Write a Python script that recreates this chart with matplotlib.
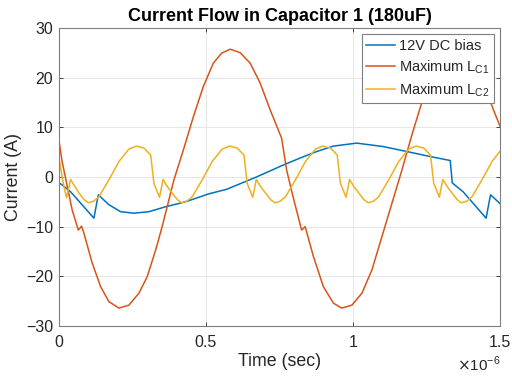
import matplotlib
matplotlib.use("Agg")
import matplotlib.pyplot as plt
from matplotlib import ticker

plt.rcParams["font.family"] = ["Liberation Sans", "DejaVu Sans"]
plt.rcParams["xtick.direction"] = "in"
plt.rcParams["ytick.direction"] = "in"

# MATLAB default line colours
c_blue = "#0072BD"
c_red = "#D95319"
c_yel = "#EDB120"
axis_col = "#262626"

# time in microseconds, current in amps
t_bias = [0, 0.011, 0.04, 0.119, 0.134, 0.17, 0.21, 0.255, 0.306, 0.363, 0.431,
          0.51, 0.57, 0.672, 0.763, 0.82, 0.876, 0.933, 1.012, 1.103, 1.183,
          1.262, 1.33, 1.337, 1.345, 1.374, 1.452, 1.467, 1.5]
i_bias = [-1.2, -1.6, -3.0, -8.3, -3.6, -5.6, -7.0, -7.3, -7.0, -6.0, -5.0,
          -3.4, -2.5, 0.0, 2.4, 3.8, 5.1, 6.2, 6.8, 6.1, 5.1,
          4.1, 3.3, -1.2, -1.6, -3.0, -8.3, -3.6, -5.4]

t_lc1 = [0, 0.011, 0.045, 0.066, 0.077, 0.085, 0.113, 0.142, 0.170, 0.204,
         0.238, 0.272, 0.300, 0.329, 0.351, 0.374, 0.391, 0.423, 0.457, 0.491,
         0.525, 0.553, 0.582, 0.616, 0.650, 0.684, 0.718, 0.757, 0.774, 0.795,
         0.825, 0.837, 0.865, 0.899, 0.933, 0.961, 0.996, 1.03, 1.064, 1.098,
         1.132, 1.166, 1.2, 1.25, 1.284, 1.312, 1.341, 1.375, 1.409, 1.443,
         1.477, 1.5]
i_lc1 = [7.4, 3.1, -6.6, -10.7, -9.9, -11.3, -17.3, -22.1, -25.1, -26.4,
         -25.8, -23.4, -20.1, -14.7, -10.0, -4.6, -0.6, 5.4, 12.1, 18.2,
         22.9, 24.9, 25.7, 25.0, 22.9, 18.9, 13.5, 7.8, 1.4, -3.8,
         -10.7, -10.0, -16.0, -22.1, -25.4, -26.4, -25.8, -23.4, -18.7, -12.0,
         -5.3, 1.4, 8.5, 18.2, 22.9, 24.9, 25.7, 25.0, 22.9, 18.9,
         13.5, 10.1]

t_lc2 = [0, 0.015, 0.026, 0.04, 0.054, 0.069, 0.086, 0.1,
         0.118, 0.136, 0.17, 0.204, 0.238, 0.263, 0.289, 0.312, 0.323, 0.342,
         0.354, 0.368, 0.386, 0.403, 0.417,
         0.435, 0.453, 0.487, 0.521, 0.555, 0.58, 0.606, 0.629, 0.64, 0.659,
         0.671, 0.685, 0.703, 0.72, 0.734,
         0.752, 0.77, 0.804, 0.838, 0.872, 0.897, 0.923, 0.946, 0.957, 0.976,
         0.988, 1.002, 1.02, 1.037, 1.051,
         1.069, 1.087, 1.121, 1.155, 1.189, 1.214, 1.24, 1.263, 1.274, 1.293,
         1.305, 1.319, 1.337, 1.354, 1.368,
         1.386, 1.404, 1.438, 1.472, 1.5]
i_lc2 = [4.0, -1.3, -4.2, -0.5, -1.9, -3.3, -4.6, -5.2,
         -4.9, -4.0, -0.6, 3.1, 5.6, 6.2, 5.8, 4.4, -1.3, -4.1,
         -0.5, -1.9, -3.3, -4.6, -5.2,
         -4.9, -4.0, -0.6, 3.1, 5.6, 6.2, 5.8, 4.4, -1.3, -4.1,
         -0.5, -1.9, -3.3, -4.6, -5.2,
         -4.9, -4.0, -0.6, 3.1, 5.6, 6.2, 5.8, 4.4, -1.3, -4.1,
         -0.5, -1.9, -3.3, -4.6, -5.2,
         -4.9, -4.0, -0.6, 3.1, 5.6, 6.2, 5.8, 4.4, -1.3, -4.1,
         -0.5, -1.9, -3.3, -4.6, -5.2,
         -4.9, -4.0, -0.6, 3.1, 5.2]

labels = ["12V DC bias", r"Maximum L$_{\mathregular{C1}}$", r"Maximum L$_{\mathregular{C2}}$"]

fig = plt.figure(figsize=(5.12, 3.76), dpi=100)
ax = fig.add_axes([0.115, 0.133, 0.862, 0.793])

us = 1e-6
ax.plot([t * us for t in t_bias], i_bias, color=c_blue, lw=1.1, label=labels[0])
ax.plot([t * us for t in t_lc1], i_lc1, color=c_red, lw=1.1, label=labels[1])
ax.plot([t * us for t in t_lc2], i_lc2, color=c_yel, lw=1.1, label=labels[2])

ax.set_xlim(0, 1.5e-6)
ax.set_ylim(-30, 30)
ax.set_xticks([0, 0.5e-6, 1.0e-6, 1.5e-6])
ax.set_yticks(range(-30, 31, 10))
ax.xaxis.set_major_formatter(ticker.FuncFormatter(lambda v, p: "%g" % round(v / us, 3)))

ax.grid(True, color="#e6e6e6", lw=0.7)
ax.set_axisbelow(True)
ax.tick_params(axis="both", which="both", top=True, right=True, length=3,
               width=0.6, color=axis_col, labelsize=11.5, labelcolor=axis_col)
ax.tick_params(axis="x", pad=6.5)
ax.tick_params(axis="y", pad=4)
for s in ax.spines.values():
    s.set_color("#7f7f7f")
    s.set_linewidth(0.8)

ax.set_xlabel("Time (sec)", fontsize=12.8, color=axis_col, labelpad=2)
ax.set_ylabel("Current (A)", fontsize=12.8, color=axis_col, labelpad=3)
ax.set_title("Current Flow in Capacitor 1 (180uF)", fontsize=13, fontweight="bold",
             color="black", pad=5)
ax.text(1.0, -0.151, r"$\times$10$^{\mathregular{-6}}$", transform=ax.transAxes,
        ha="right", va="baseline", fontsize=11, color=axis_col)

leg = ax.legend(loc="upper right", fontsize=10.5, handlelength=2.0, handletextpad=0.25,
                labelspacing=0.36, borderpad=0.3, borderaxespad=0.45, fancybox=False,
                framealpha=1.0, edgecolor="#7f7f7f")
leg.get_frame().set_linewidth(0.8)
for t in leg.get_texts():
    t.set_color(axis_col)

fig.savefig("out.png", dpi=100)
